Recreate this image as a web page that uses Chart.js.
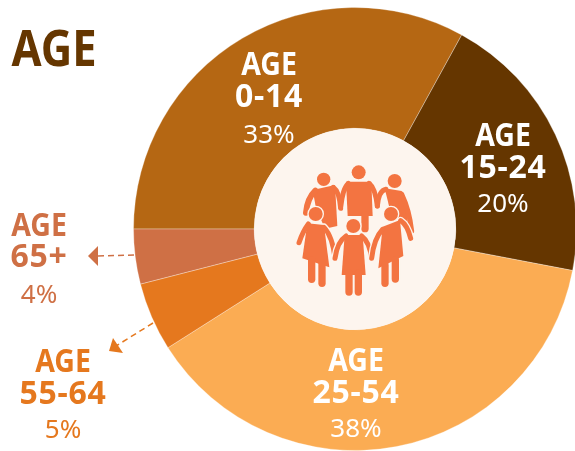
<!DOCTYPE html>
<html>
<head>
<meta charset="utf-8">
<script src="https://cdn.jsdelivr.net/npm/chart.js@4"></script>
<style>
  html, body { margin: 0; padding: 0; background: #fff; overflow: hidden; }
  canvas { display: block; }
</style>
</head>
<body>
<canvas id="grafico-edad" width="575" height="451"></canvas>
<script>
const titulo = "AGE";
const categorias = ["0-14", "15-24", "25-54", "55-64", "65+"];
const valores = [33, 20, 38, 5, 4];
const colores = ["#B56713", "#653600", "#FBAC53", "#E5781E", "#CF7045"];
const coloresTexto = ["#FFFFFF", "#FFFFFF", "#FFFFFF", "#E5781E", "#CF7045"];

// x centro y las tres lineas base de cada etiqueta
const posEtiquetas = [
  [269, 75, 107, 143],
  [503, 146, 178, 212],
  [356, 371, 403, 437],
  [63, 372, 404, 438],
  [39, 236, 267, 303]
];

const FUENTE = "'Noto Sans'";

function texto(ctx, str, x, y, font, color, ancho, espacio) {
  ctx.save();
  ctx.font = font;
  ctx.fillStyle = color;
  ctx.textAlign = "center";
  ctx.textBaseline = "alphabetic";
  ctx.letterSpacing = (espacio || 0) + "px";
  ctx.translate(x, y);
  ctx.scale(ancho, 1);
  ctx.fillText(str, 0, 0);
  ctx.restore();
}

function flecha(ctx, color, x1, y1, x2, y2, punta) {
  ctx.save();
  ctx.strokeStyle = color;
  ctx.lineWidth = 1.5;
  ctx.setLineDash([6, 4]);
  ctx.beginPath();
  ctx.moveTo(x1, y1);
  ctx.lineTo(x2, y2);
  ctx.stroke();
  ctx.setLineDash([]);
  ctx.fillStyle = color;
  ctx.beginPath();
  ctx.moveTo(punta[0], punta[1]);
  ctx.lineTo(punta[2], punta[3]);
  ctx.lineTo(punta[4], punta[5]);
  ctx.closePath();
  ctx.fill();
  ctx.restore();
}

// el icono se dibuja en coordenadas del zoom (3x) para que sea mas facil
function persona(ctx, p, color, halo) {
  function trazos(extra, col) {
    ctx.strokeStyle = col;
    ctx.fillStyle = col;
    ctx.lineCap = "round";
    ctx.lineJoin = "round";
    ctx.lineWidth = extra;
    ctx.beginPath();
    p.cuerpo.forEach((q, i) => i ? ctx.lineTo(q[0], q[1]) : ctx.moveTo(q[0], q[1]));
    ctx.closePath();
    ctx.fill();
    if (extra) ctx.stroke();
    p.miembros.forEach(m => {
      ctx.lineWidth = m[m.length - 1] + extra;
      ctx.beginPath();
      ctx.moveTo(m[0], m[1]);
      if (m.length === 7) ctx.quadraticCurveTo(m[2], m[3], m[4], m[5]);
      else ctx.lineTo(m[2], m[3]);
      ctx.stroke();
    });
    ctx.beginPath();
    ctx.arc(p.cabeza[0], p.cabeza[1], p.cabeza[2] + extra / 2, 0, Math.PI * 2);
    ctx.fill();
  }
  if (halo) trazos(8, "#FDF5EE");
  trazos(0, color);
}

function icono(ctx) {
  const c = "#F37441";
  const atras = [
    { cabeza: [221, 148, 20],
      cuerpo: [[188, 180], [255, 165], [262, 288], [225, 296], [198, 235]],
      miembros: [[196, 182, 172, 205, 168, 248, 18], [250, 172, 268, 185, 272, 235, 15]] },
    { cabeza: [326, 127, 21],
      cuerpo: [[288, 155], [364, 155], [368, 258], [293, 258]],
      miembros: [[295, 160, 278, 175, 272, 232, 15], [357, 160, 376, 175, 382, 228, 15], [345, 255, 345, 296, 22]] },
    { cabeza: [434, 153, 21],
      cuerpo: [[404, 175], [455, 183], [474, 255], [472, 292], [420, 240]],
      miembros: [[455, 192, 478, 240, 485, 303, 15], [408, 178, 386, 182, 382, 228, 15]] }
  ];
  const frente = [
    { cabeza: [197, 252, 21],
      cuerpo: [[172, 280], [222, 285], [238, 412], [157, 385]],
      miembros: [[175, 282, 158, 305, 147, 338, 15], [222, 292, 248, 320, 255, 385, 15],
                 [185, 390, 185, 448, 22], [216, 400, 216, 460, 22]] },
    { cabeza: [310, 288, 21],
      cuerpo: [[284, 315], [338, 315], [347, 435], [275, 435]],
      miembros: [[288, 318, 262, 335, 255, 385, 15], [335, 318, 358, 335, 365, 385, 15],
                 [297, 430, 297, 486, 22], [325, 430, 325, 486, 22]] },
    { cabeza: [423, 252, 21],
      cuerpo: [[398, 290], [450, 270], [460, 378], [385, 415]],
      miembros: [[398, 298, 372, 325, 365, 385, 15], [452, 272, 472, 285, 482, 325, 15],
                 [405, 405, 405, 460, 22], [436, 390, 436, 447, 22]] }
  ];
  ctx.save();
  ctx.translate(250, 130);
  ctx.scale(1 / 3, 1 / 3);
  atras.forEach(p => persona(ctx, p, c, false));
  frente.forEach(p => persona(ctx, p, c, true));
  ctx.restore();
}

const extras = {
  id: "extras",
  // el circulo se sale del lienzo por la derecha, como en el original
  afterLayout(chart) {
    chart.chartArea = { left: 0, top: 7, right: 710, bottom: 451, width: 710, height: 444 };
  },
  afterDraw(chart) {
    const ctx = chart.ctx;
    const arco = chart.getDatasetMeta(0).data[0];

    ctx.save();
    ctx.fillStyle = "#FDF5EE";
    ctx.beginPath();
    ctx.arc(arco.x, arco.y, arco.innerRadius, 0, Math.PI * 2);
    ctx.fill();
    ctx.restore();
    icono(ctx);

    texto(ctx, titulo, 54, 66, "bold 50px " + FUENTE, "#653600", 0.87);

    categorias.forEach((cat, i) => {
      const p = posEtiquetas[i];
      texto(ctx, "AGE", p[0], p[1], "bold 32px " + FUENTE, coloresTexto[i], 0.89);
      texto(ctx, cat, p[0], p[2], "bold 32px " + FUENTE, coloresTexto[i], 1, 0.7);
      texto(ctx, valores[i] + "%", p[0], p[3], "26px " + FUENTE, coloresTexto[i], 1);
    });

    flecha(ctx, colores[4], 134, 255, 98, 256, [88, 256, 98, 246, 98, 266]);
    flecha(ctx, colores[3], 153, 323, 116, 346, [109, 351, 113, 338, 123, 353]);
  }
};

new Chart(document.getElementById("grafico-edad"), {
  type: "doughnut",
  data: {
    labels: categorias,
    datasets: [{
      data: valores,
      backgroundColor: colores,
      borderColor: "rgba(255,255,255,0.3)",
      borderWidth: 1
    }]
  },
  options: {
    responsive: false,
    animation: false,
    rotation: -90,
    cutout: "45.5%",
    plugins: { legend: { display: false }, tooltip: { enabled: false } }
  },
  plugins: [extras]
});
</script>
</body>
</html>
